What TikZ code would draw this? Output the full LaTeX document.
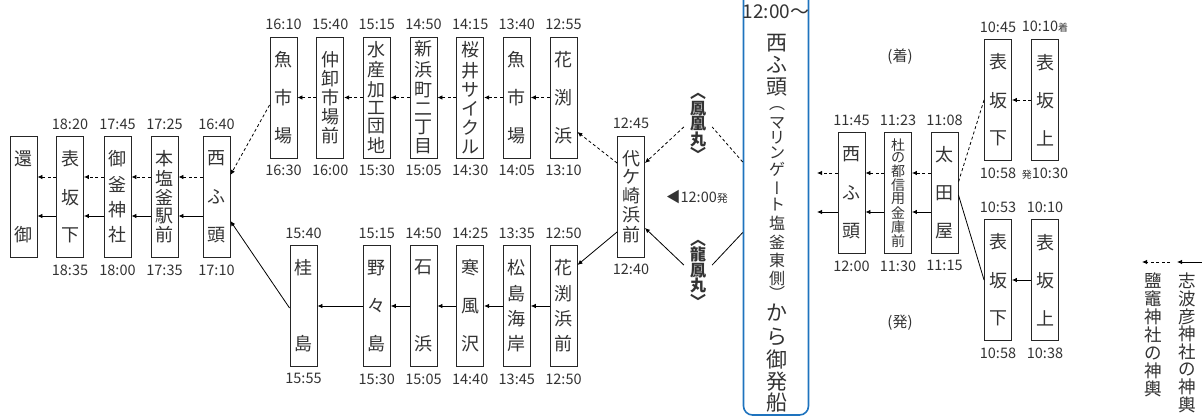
\documentclass[tikz,border=0pt]{standalone}
\usepackage{fontspec}
\setmainfont{Noto Sans CJK JP}
\newfontfamily\vfont[RawFeature=+vert]{Noto Sans CJK JP}
\usetikzlibrary{arrows.meta,calc}
\definecolor{txt}{HTML}{333333}
\definecolor{shipblue}{HTML}{1E73BE}
\ExplSyntaxOn
\NewDocumentCommand\vstk{m}{
  \seq_clear:N \l_tmpa_seq
  \tl_map_inline:nn {#1}{\seq_put_right:Nn \l_tmpa_seq {##1}}
  \seq_use:Nn \l_tmpa_seq {\par\vfill}
}
\NewDocumentCommand\vlst{m}{
  \seq_clear:N \l_tmpa_seq
  \tl_map_inline:nn {#1}{\seq_put_right:Nn \l_tmpa_seq {##1}}
  \seq_use:Nn \l_tmpa_seq {\\}
}
\ExplSyntaxOff
\newcommand\stb[2][91]{\parbox[c][#1pt][s]{27pt}{\centering\baselineskip=0pt\lineskip=0pt\lineskiplimit=0pt\vstk{#2}}}
\NewDocumentCommand\stn{O{}mmmmmm}{%
  \node[stn,#1,label={[tm,name=#2a]above:{#6}},label={[tm,name=#2b]below:{#7}}] (#2) at (#3,#4) {#5};}
\tikzset{
  stn/.style={draw=black!85, line width=0.9pt, minimum width=27pt, minimum height=121pt, inner sep=0pt, text=txt, font=\fontsize{18}{18}\selectfont},
  tm/.style={text=txt, font=\fontsize{14.5}{15}\selectfont, inner sep=0pt},
  label distance=6.5pt,
  tip/.style={-{Latex[length=5pt,width=4.5pt]}},
  dl/.style={dash pattern=on 3pt off 2.5pt, line width=0.8pt},
  sl/.style={line width=0.8pt},
  da/.style={dl,tip},
  so/.style={sl,tip},
  vlab/.style={font=\fontsize{16}{15.5}\selectfont\bfseries, align=center, inner xsep=6pt, inner ysep=0pt, text=txt},
  ch/.style={inner sep=0pt, text=txt},
}
\begin{document}
\begin{tikzpicture}[x=1pt,y=-1pt]
\useasboundingbox (0,0) rectangle (1202,419);
% top row
\stn{t1}{283.5}{97.5}{\stb{魚市場}}{16:10}{16:30}
\stn{t2}{330.2}{97.5}{\stb{仲卸市場前}}{15:40}{16:00}
\stn{t3}{376.8}{97.5}{\stb[112]{水産加工団地}}{15:15}{15:30}
\stn{t4}{423.5}{97.5}{\stb[112]{新浜町二丁目}}{14:50}{15:05}
\stn{t5}{470.2}{97.5}{\stb[112]{桜井サイクル}}{14:15}{14:30}
\stn{t6}{516.8}{97.5}{\stb{魚市場}}{13:40}{14:05}
\stn{t7}{563.5}{97.5}{\stb{花渕浜}}{12:55}{13:10}
% bottom row
\stn{b1}{303.5}{306}{\stb{桂島}}{15:40}{15:55}
\stn{b2}{376.8}{306}{\stb{野々島}}{15:15}{15:30}
\stn{b3}{423.5}{306}{\stb{石浜}}{14:50}{15:05}
\stn{b4}{470.2}{306}{\stb{寒風沢}}{14:25}{14:40}
\stn{b5}{516.8}{306}{\stb{松島海岸}}{13:35}{13:45}
\stn{b6}{563.5}{306}{\stb{花渕浜前}}{12:50}{12:50}
% left row
\stn{l1}{23.5}{197}{\stb{還御}}{}{}
\stn{l2}{70}{197}{\stb{表坂下}}{18:20}{18:35}
\stn{l3}{117.5}{197}{\stb{御釜神社}}{17:45}{18:00}
\stn{l4}{164.5}{197}{\stb{本塩釜駅前}}{17:25}{17:35}
\stn{l5}{216.5}{197}{\stb{西ふ頭}}{16:40}{17:10}
% daigasaki
\stn{dai}{631}{196.5}{\stb{代ケ崎浜前}}{12:45}{12:40}
% right section
\stn{m1}{851.5}{193}{\stb{西ふ頭}}{11:45}{12:00}
\stn[font=\fontsize{14}{14}\selectfont]{m2}{898}{193}{\stb[108]{杜の都信用金庫前}}{11:23}{11:30}
\stn{m3}{944.5}{193}{\stb{太田屋}}{11:08}{11:15}
\stn{r1}{998}{100}{\stb{表坂下}}{10:45}{10:58}
\stn{r2}{1045}{100}{\stb{表坂上}}{10:10{\fontsize{10}{10}\selectfont 着}}{{\fontsize{10}{10}\selectfont 発}10:30}
\stn{r3}{998}{280}{\stb{表坂下}}{10:53}{10:58}
\stn{r4}{1045}{280}{\stb{表坂上}}{10:10}{10:38}
\node[tm,font=\fontsize{15}{15}\selectfont] (arr) at (900,57) {(着)};
\node[tm,font=\fontsize{15}{15}\selectfont] (dep) at (900,323) {(発)};
% ship box
\node[draw=shipblue, line width=1.6pt, rounded corners=9pt, minimum width=65pt, minimum height=455pt, inner sep=0pt] (ship) at (776,187.5) {};
\node[ch, font=\fontsize{19}{19}\selectfont] (st) at (776,12) {12:00〜};
\foreach \c/\yy/\s [count=\i] in {西/43/21, ふ/65/21, 頭/87/21, ︵/109/16, マ/123/16, リ/138/16, ン/153/16, ゲ/169/16, {\vfont ー}/188/16, ト/205/16, 塩/223/16, 釜/242/16, 東/260/16, 側/278/16, ︶/293/16, か/313/21, ら/337/21, 御/360/21, 発/382/21, 船/403/21}
  \node[ch, font=\fontsize{\s}{\s}\selectfont] (sc\i) at (777,\yy) {\c};
% ship labels
\node[vlab] (hou) at (698,127) {︿\\鳳\\凰\\丸\\﹀};
\node[vlab] (ryu) at (698,273.5) {︿\\龍\\鳳\\丸\\﹀};
\node[tm] (dtime) at (697,197) {◀12:00{\fontsize{11}{11}\selectfont 発}};
% connectors: top row
\draw[da] (t7) -- (t6);
\draw[da] (t6) -- (t5);
\draw[da] (t5) -- (t4);
\draw[da] (t4) -- (t3);
\draw[da] (t3) -- (t2);
\draw[da] (t2) -- (t1);
% bottom row
\draw[so] (b6) -- (b5);
\draw[so] (b5) -- (b4);
\draw[so] (b4) -- (b3);
\draw[so] (b3) -- (b2);
\draw[so] (b2) -- (b1);
% left row
\foreach \a/\b in {l5/l4, l4/l3, l3/l2, l2/l1} {
  \draw[da] ($(\a.west)+(0,-20)$) -- ($(\b.east)+(0,-20)$);
  \draw[so] ($(\a.west)+(0,19)$) -- ($(\b.east)+(0,19)$);
}
\draw[da] ($(t1.west)+(0,7.5)$) -- ($(l5.east)+(0,-22)$);
\draw[so] ($(b1.west)+(0,2)$) -- ($(l5.east)+(0,24)$);
\draw[da] ($(dai.west)+(0,-33.5)$) -- ($(t7.east)+(0,34.5)$);
\draw[so] ($(dai.west)+(0,35.5)$) -- ($(b6.east)+(0,-41)$);
% ship to daigasaki
\draw[dl] ($(ship.west)+(0,-25.5)$) -- (hou.east);
\draw[da] (hou.west) -- ($(dai.east)+(0,-33.5)$);
\draw[sl] ($(ship.west)+(0,45)$) -- ($(ryu.east)+(0,-8.5)$);
\draw[so] ($(ryu.west)+(0,-8.5)$) -- ($(dai.east)+(0,31.5)$);
% right section
\draw[da] (r2) -- (r1);
\draw[so] (r4) -- (r3);
\draw[dl] (r1.west) -- ($(m3.east)+(0,-11)$);
\draw[sl] (r3.west) -- ($(m3.east)+(0,2)$);
\coordinate (o1) at (817,173);
\coordinate (o2) at (817,212);
\foreach \a/\b in {m3/m2, m2/m1} {
  \draw[da] ($(\a.west)+(0,-20)$) -- ($(\b.east)+(0,-20)$);
  \draw[so] ($(\a.west)+(0,19)$) -- ($(\b.east)+(0,19)$);
}
\draw[da] ($(m1.west)+(0,-20)$) -- (o1);
\draw[so] ($(m1.west)+(0,19)$) -- (o2);
% legend
\coordinate (ls1) at (1202,262);
\coordinate (le1) at (1177,262);
\coordinate (ls2) at (1170,262);
\coordinate (le2) at (1142,262);
\draw[so] (ls1) -- (le1);
\draw[da] (ls2) -- (le2);
\node[ch, font=\fontsize{17.5}{17.6}\selectfont, align=center, anchor=north] (lg1) at (1187,273) {\vlst{志波彦神社の神輿}};
\node[ch, font=\fontsize{17.5}{17.9}\selectfont, align=center, anchor=north] (lg2) at (1153,273) {\vlst{鹽竈神社の神輿}};
\end{tikzpicture}
\end{document}
